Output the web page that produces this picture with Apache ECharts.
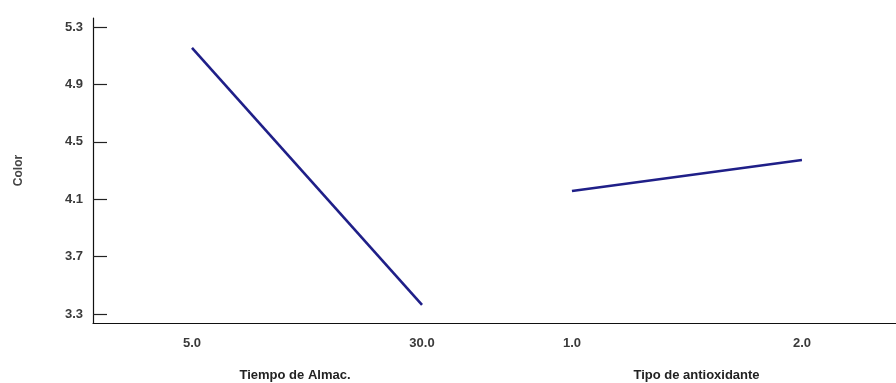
<!DOCTYPE html>
<html><head><meta charset="utf-8">
<script src="https://cdn.jsdelivr.net/npm/echarts@6/dist/echarts.min.js"></script>
<style>html,body{margin:0;padding:0;background:#fff}#c{width:896px;height:383px}</style>
</head><body><div id="c"></div>
<script>
// Panel 1: Tiempo de Almac.
const tiempoX = [5.0, 30.0];
const tiempoY = [5.154, 3.363];
// Panel 2: Tipo de antioxidante
const tipoX = [1.0, 2.0];
const tipoY = [4.157, 4.373];
// Tick labels
const yTicks = [3.3, 3.7, 4.1, 4.5, 4.9, 5.3];
const tiempoTicks = [5.0, 30.0];
const tipoTicks = [1.0, 2.0];

const font = 'Liberation Sans, Arial, sans-serif';
const lineColor = '#1f1f88';
const axisLine = {show: true, onZero: false, lineStyle: {color: '#111', width: 1.2}};
const labelStyle = {color: '#3a3a3a', fontFamily: font, fontSize: 13, fontWeight: 'bold'};

const chart = echarts.init(document.getElementById('c'));
chart.setOption({
  animation: false,
  backgroundColor: '#fff',
  grid: [
    {left: 93, top: 18, width: 404, bottom: 60, containLabel: false, outerBoundsMode: 'none'},
    {left: 497, top: 18, right: 0, bottom: 60, containLabel: false, outerBoundsMode: 'none'}
  ],
  xAxis: [
    {gridIndex: 0, type: 'value', min: -5.76, max: 38.15,
     axisLine: axisLine, axisTick: {show: false}, splitLine: {show: false},
     axisLabel: Object.assign({customValues: tiempoTicks, margin: 14, formatter: v => v.toFixed(1)}, labelStyle),
     name: 'Tiempo de Almac.', nameLocation: 'middle', nameGap: 46,
     nameTextStyle: {color: '#222', fontFamily: font, fontSize: 13, fontWeight: 'bold'}},
    {gridIndex: 1, type: 'value', min: 0.674, max: 2.409,
     axisLine: axisLine, axisTick: {show: false}, splitLine: {show: false},
     axisLabel: Object.assign({customValues: tipoTicks, margin: 14, formatter: v => v.toFixed(1)}, labelStyle),
     name: 'Tipo de antioxidante', nameLocation: 'middle', nameGap: 46,
     nameTextStyle: {color: '#222', fontFamily: font, fontSize: 13, fontWeight: 'bold'}}
  ],
  yAxis: [
    {gridIndex: 0, type: 'value', min: 3.2373, max: 5.3627,
     axisLine: axisLine,
     axisTick: {show: true, inside: true, length: 14, customValues: yTicks, lineStyle: {color: '#222', width: 1.2}},
     splitLine: {show: false},
     axisLabel: Object.assign({customValues: yTicks, margin: 10, formatter: v => v.toFixed(1)}, labelStyle),
     name: 'Color', nameLocation: 'middle', nameGap: 68, nameRotate: 90,
     nameTextStyle: {color: '#444', fontFamily: font, fontSize: 12, fontWeight: 'bold'}},
    {gridIndex: 1, type: 'value', min: 3.2373, max: 5.3627, show: false}
  ],
  series: [
    {type: 'line', xAxisIndex: 0, yAxisIndex: 0, showSymbol: false, symbol: 'none',
     lineStyle: {color: lineColor, width: 2.6},
     data: tiempoX.map((x, i) => [x, tiempoY[i]])},
    {type: 'line', xAxisIndex: 1, yAxisIndex: 1, showSymbol: false, symbol: 'none',
     lineStyle: {color: lineColor, width: 2.6},
     data: tipoX.map((x, i) => [x, tipoY[i]])}
  ]
});
</script>
</body></html>
